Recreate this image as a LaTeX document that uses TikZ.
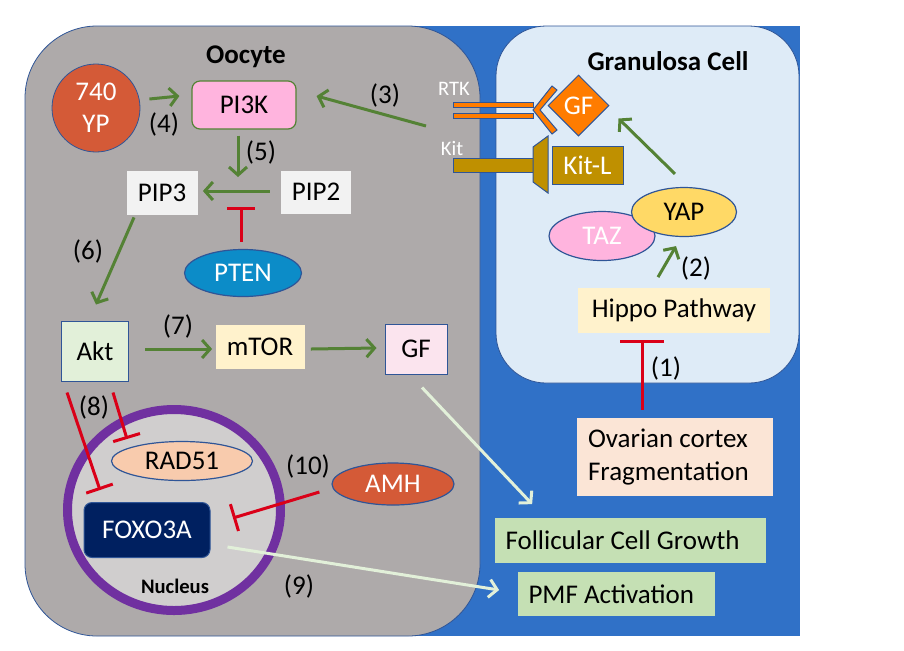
\documentclass[tikz,border=0pt]{standalone}
\usepackage{fontspec}
\setmainfont{Carlito}
\usepackage{tikz}
\usetikzlibrary{arrows.meta,positioning,shapes.geometric,calc}
\definecolor{BgBlue}{RGB}{48,113,199}
\definecolor{CellGray}{RGB}{174,170,170}
\definecolor{GranFill}{RGB}{222,235,247}
\definecolor{EdgeBlue}{RGB}{47,85,151}
\definecolor{YPRed}{RGB}{212,90,55}
\definecolor{PIPink}{RGB}{255,180,222}
\definecolor{PipGray}{RGB}{242,242,242}
\definecolor{PtenBlue}{RGB}{12,140,200}
\definecolor{AktGreen}{RGB}{226,240,217}
\definecolor{MtorYel}{RGB}{255,242,204}
\definecolor{GFPink}{RGB}{251,228,238}
\definecolor{NucGray}{RGB}{208,206,206}
\definecolor{NucPurple}{RGB}{112,48,160}
\definecolor{RadPeach}{RGB}{248,203,173}
\definecolor{FoxoNavy}{RGB}{0,32,96}
\definecolor{GFOrange}{RGB}{255,124,0}
\definecolor{KitGold}{RGB}{191,144,0}
\definecolor{YapYel}{RGB}{255,217,102}
\definecolor{OvarPeach}{RGB}{251,229,214}
\definecolor{FollGreen}{RGB}{197,224,180}
\definecolor{ArrGreen}{RGB}{84,130,53}
\definecolor{InhRed}{RGB}{218,0,24}
\definecolor{PaleGreen}{RGB}{226,240,217}

\begin{document}
\begin{tikzpicture}[x=0.5pt,y=-0.5pt,
  every node/.style={font=\fontsize{13.5}{16.5}\selectfont},
  ttl/.style={font=\bfseries\fontsize{13.5}{16}\selectfont},
  small/.style={font=\fontsize{10.3}{12}\selectfont},
  bx/.style={draw=EdgeBlue,line width=0.5pt,inner sep=0pt},
  plain/.style={inner sep=0pt},
  oval/.style={ellipse,draw=EdgeBlue,line width=0.6pt,inner sep=0pt},
  txtbox/.style={inner xsep=5.5pt,align=flush left},
  num/.style={inner sep=0pt},
  act/.style={draw=ArrGreen,line width=1.5pt,-{Straight Barb[length=4pt,width=9pt]}},
  feed/.style={draw=PaleGreen,line width=1.5pt,-{Straight Barb[length=4pt,width=9pt]}},
  inh/.style={draw=InhRed,line width=1.5pt,-{Bar[width=14pt]}}]
  \useasboundingbox (0,0) rectangle (904,650);
  % compartments
  \fill[BgBlue] (250,26) rectangle (800,636);
  \draw[EdgeBlue,fill=CellGray,rounded corners=36pt] (25,26) rectangle (480,636);
  \draw[EdgeBlue,fill=GranFill,rounded corners=25pt] (496,26) rectangle (799,383);
  \node[ttl] (oolab) at (246,57) {Oocyte};
  \node[ttl] (granlab) at (668,61) {Granulosa Cell};

  % oocyte: PI3K / Akt axis
  \node[circle,draw=EdgeBlue,fill=YPRed,text=white,minimum size=44pt,inner sep=0pt,align=center,
        font=\fontsize{13.5}{16}\selectfont] (yp) at (96,108) {740\\YP};
  \node[draw=ArrGreen,fill=PIPink,rounded corners=4pt,line width=0.6pt,minimum width=52pt,minimum height=24pt] (pi3k) at (244,105) {PI3K};
  \node[plain,fill=PipGray,minimum width=35.5pt,minimum height=22pt] (pip3) at (162,193) {PIP3};
  \node[plain,fill=PipGray,minimum width=35pt,minimum height=21.5pt] (pip2) at (316,192) {PIP2};
  \node[oval,fill=PtenBlue,text=white,minimum width=58.5pt,minimum height=23.5pt] (pten) at (243,273) {PTEN};
  \node[bx,fill=AktGreen,minimum width=33.5pt,minimum height=30pt] (akt) at (95,351) {Akt};
  \node[plain,fill=MtorYel,minimum width=44.5pt,minimum height=22pt] (mtor) at (260,347) {mTOR};
  \node[bx,fill=GFPink,minimum width=31pt,minimum height=25pt] (gfo) at (416,349) {GF};

  % nucleus
  \node[ellipse,draw=NucPurple,line width=4.5pt,fill=NucGray,minimum width=106.5pt,minimum height=100.5pt] (nuc) at (174,510) {};
  \node[oval,fill=RadPeach,minimum width=70.5pt,minimum height=19.5pt] (rad) at (182,461) {RAD51};
  \node[draw=EdgeBlue,fill=FoxoNavy,text=white,rounded corners=4pt,line width=0.5pt,minimum width=63pt,minimum height=27.5pt] (foxo) at (147,530) {FOXO3A};
  \node[font=\bfseries\fontsize{10.3}{12}\selectfont] (nuclab) at (175,586) {Nucleus};
  \node[oval,fill=YPRed,text=white,minimum width=61pt,minimum height=21pt] (amh) at (393,484) {AMH};

  % receptors on the membrane
  \draw[EdgeBlue,fill=GFOrange,line width=0.5pt] (453,102) rectangle (533,107);
  \draw[EdgeBlue,fill=GFOrange,line width=0.5pt] (453,113) rectangle (533,118);
  \draw[EdgeBlue,fill=GFOrange,line width=0.5pt] (533,110) -- (552,86) -- (557,90) -- (540,110) -- (557,130) -- (552,134) -- cycle;
  \draw[EdgeBlue,fill=KitGold,line width=0.5pt] (453,158) rectangle (533,172);
  \draw[EdgeBlue,fill=KitGold,line width=0.5pt] (533,147) -- (548,136) -- (548,193) -- (533,182) -- cycle;
  \node[small,text=white] (rtklab) at (454,89) {RTK};
  \node[small,text=white] (kitlab) at (452,148) {Kit};

  % granulosa cell
  \node[diamond,draw=EdgeBlue,fill=GFOrange,text=white,line width=0.5pt,minimum width=30.5pt,minimum height=30.5pt,inner sep=0pt] (gfr) at (578.5,105.5) {GF};
  \node[bx,fill=KitGold,text=white,minimum width=35.5pt,minimum height=19pt] (kitl) at (587.5,165) {Kit-L};
  \node[oval,fill=PIPink,text=white,minimum width=53pt,minimum height=24.5pt] (taz) at (602,236) {TAZ};
  \node[oval,fill=YapYel,minimum width=52.5pt,minimum height=24.5pt] (yap) at (684,212) {YAP};
  \node[plain,fill=MtorYel,minimum width=96pt,minimum height=22.5pt] (hippo) at (674,310) {Hippo Pathway};

  % outside
  \node[txtbox,fill=OvarPeach,text width=87pt,minimum height=39pt] (ovar) at (675,457) {Ovarian cortex\\Fragmentation};
  \node[txtbox,fill=FollGreen,text width=124.5pt,minimum height=22.5pt] (foll) at (630,540) {Follicular Cell Growth};
  \node[txtbox,fill=FollGreen,text width=87.5pt,minimum height=22pt] (pmf) at (616,594) {PMF Activation};

  % free ends
  \coordinate (rtkin) at (426,126);
  \coordinate (pipmid) at (238,177);
  \coordinate (ptenhit) at (241,207);
  \coordinate (foxohit) at (100,490);
  \coordinate (radhit) at (127,439);
  \coordinate (nuchit) at (233,518);
  \coordinate (hippohit) at (642,340);

  % connectors
  \draw[act] ([shift={(9,-9)}]yp.east) -- ([shift={(-12,-9)}]pi3k.west);
  \draw[act] (rtkin) -- ([shift={(20,-9)}]pi3k.east);
  \draw[act] ([shift={(-6,6)}]pi3k.south) -- (pipmid);
  \draw[act] ([shift={(-11,-1)}]pip2.west) -- ([shift={(5,-2)}]pip3.east);
  \draw[inh] ([shift={(-2,-7)}]pten.north) -- (ptenhit);
  \draw[act] ([shift={(-28,2)}]pip3.south) -- ([shift={(1,-16)}]akt.north);
  \draw[act] ([shift={(16,-2)}]akt.east) -- ([shift={(-3,2)}]mtor.west);
  \draw[act] ([shift={(6,2)}]mtor.east) -- ([shift={(-8,-1)}]gfo.west);
  \draw[inh] ([shift={(6,11)}]akt.south west) -- (foxohit);
  \draw[inh] ([shift={(-16,11)}]akt.south east) -- (radhit);
  \draw[inh] ([shift={(-12,8)}]amh.west) -- (nuchit);
  \draw[feed] ([shift={(6,13)}]gfo.south) -- ([shift={(38,-13)}]foll.north west);
  \draw[feed] ([shift={(17,17)}]foxo.east) -- ([shift={(-18,-4)}]pmf.west);
  \draw[inh,-{Bar[width=22pt]}] ([shift={(-33,-8)}]ovar.north) -- (hippohit);
  \draw[act] ([shift={(-16,-10)}]hippo.north) -- ([shift={(-8,9)}]yap.south);
  \draw[act] ([shift={(-9,-13)}]yap.north) -- ([shift={(9,13)}]gfr.east);

  % step numbers
  \node[num] (n1) at (666,368) {(1)};
  \node[num] (n2) at (696,268) {(2)};
  \node[num] (n3) at (385,95) {(3)};
  \node[num] (n4) at (164,124) {(4)};
  \node[num] (n5) at (261,152) {(5)};
  \node[num] (n6) at (88,251) {(6)};
  \node[num] (n7) at (178,326) {(7)};
  \node[num] (n8) at (94,407) {(8)};
  \node[num] (n9) at (299,586) {(9)};
  \node[num] (n10) at (308,466) {(10)};
\end{tikzpicture}
\end{document}
